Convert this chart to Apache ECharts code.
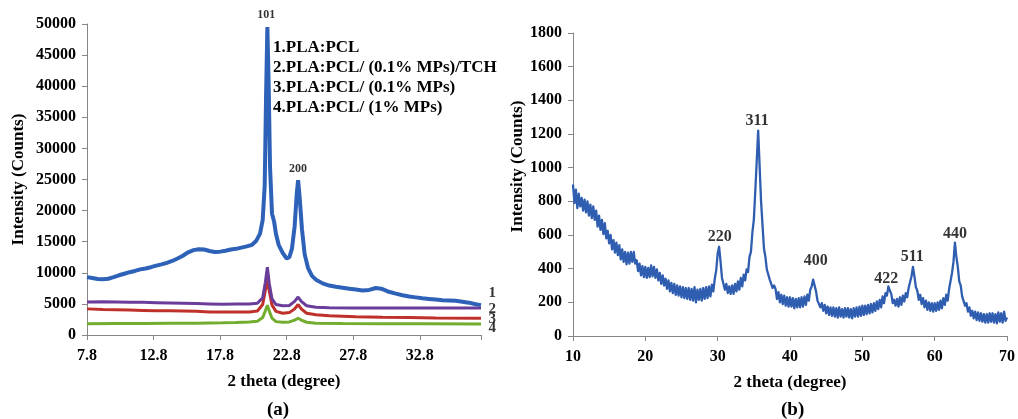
<!DOCTYPE html>
<html>
<head>
<meta charset="utf-8">
<script src="https://cdn.jsdelivr.net/npm/echarts@6/dist/echarts.min.js"></script>
<style>
  html, body { margin: 0; padding: 0; background: #fff; }
  #chart { width: 1018px; height: 419px; }
</style>
</head>
<body>
<div id="chart"></div>
<script>
// (a) PLA:PCL films, [2 theta, counts]
const curve1 = [
  [7.8, 9300], [8.2, 9150], [8.6, 9000], [9.0, 8950], [9.4, 9050], [9.8, 9300],
  [10.2, 9600], [10.6, 9850], [11.0, 10100], [11.4, 10300], [11.8, 10550], [12.2, 10700],
  [12.6, 10900], [13.0, 11150], [13.4, 11350], [13.8, 11600], [14.2, 11900], [14.6, 12300],
  [15.0, 12750], [15.4, 13300], [15.8, 13650], [16.2, 13800], [16.6, 13750], [17.0, 13500],
  [17.4, 13350], [17.8, 13400], [18.2, 13550], [18.6, 13750], [19.0, 13850], [19.4, 14050],
  [19.8, 14250], [20.2, 14500], [20.5, 15100], [20.8, 16300], [21.0, 18500], [21.15, 24000],
  [21.25, 38000], [21.35, 49500], [21.45, 40000], [21.55, 27000], [21.7, 19500], [21.85, 18300],
  [22.0, 16200], [22.2, 14500], [22.5, 13200], [22.8, 12300], [23.0, 12500], [23.2, 13900],
  [23.4, 17500], [23.55, 22500], [23.66, 24900], [23.78, 22000], [23.95, 17000], [24.15, 13000],
  [24.4, 10800], [24.7, 9500], [25.0, 8900], [25.5, 8300], [26.0, 7950], [26.5, 7750],
  [27.0, 7600], [27.5, 7450], [28.0, 7300], [28.5, 7150], [29.0, 7250], [29.5, 7550],
  [29.9, 7450], [30.4, 7000], [31.0, 6650], [31.5, 6400], [32.0, 6200], [32.5, 6050],
  [33.0, 5900], [33.5, 5800], [34.0, 5700], [34.5, 5600], [35.0, 5550], [35.5, 5500],
  [36.0, 5350], [36.5, 5200], [37.0, 4950], [37.4, 4800]
];
const curve2 = [
  [7.8, 5300], [9, 5350], [10, 5300], [11, 5250], [12, 5250], [13, 5200], [14, 5150],
  [15, 5100], [16, 5050], [17, 5000], [18, 4950], [19, 5000], [20, 5000], [20.6, 5100],
  [21.0, 6000], [21.2, 8500], [21.35, 10900], [21.5, 8200], [21.7, 5800], [22.0, 4900],
  [22.5, 4700], [23.0, 4750], [23.4, 5400], [23.66, 6100], [23.9, 5400], [24.3, 4700],
  [25, 4450], [26, 4400], [28, 4350], [30, 4350], [32, 4350], [34, 4350], [37.4, 4350]
];
const curve3 = [
  [7.8, 4200], [9, 4100], [10, 4050], [11, 4000], [12, 3950], [13, 3900], [14, 3900],
  [15, 3850], [16, 3800], [17, 3700], [18, 3700], [19, 3700], [20, 3700], [20.6, 3850],
  [21.0, 4900], [21.2, 7200], [21.35, 9000], [21.5, 7000], [21.7, 4800], [22.0, 3800],
  [22.5, 3500], [23.0, 3600], [23.4, 4200], [23.66, 4900], [23.9, 4200], [24.3, 3500],
  [25, 3250], [26, 3100], [28, 2950], [30, 2850], [32, 2800], [34, 2750], [37.4, 2700]
];
const curve4 = [
  [7.8, 1800], [10, 1850], [12, 1850], [14, 1900], [16, 1900], [18, 1950], [19, 2000],
  [20, 2100], [20.6, 2200], [21.0, 2800], [21.2, 3900], [21.35, 4800], [21.5, 3800],
  [21.7, 2700], [22.0, 2150], [22.5, 2050], [23.0, 2100], [23.4, 2400], [23.66, 2700],
  [23.9, 2400], [24.3, 2050], [25, 1900], [27, 1850], [30, 1800], [33, 1800], [37.4, 1750]
];
const seriesNamesA = [
  '1.PLA:PCL',
  '2.PLA:PCL/ (0.1% MPs)/TCH',
  '3.PLA:PCL/ (0.1% MPs)',
  '4.PLA:PCL/ (1% MPs)'
];
const peakLabelsA = [['101', 21.26, 51400], ['200', 23.66, 26700]];
const curveTagsA = [['1', 38.25, 6750], ['2', 38.25, 4180], ['3', 38.25, 2570], ['4', 38.25, 1125]];

// (b) MPs pattern, one reading every 0.2 degree from 10 to 70
const stepB = 0.2;
const countsB = [
  900, 790, 870, 760, 845, 770, 820, 745, 810, 735,
  800, 715, 780, 700, 770, 690, 745, 650, 715, 630,
  690, 605, 670, 580, 625, 550, 600, 515, 570, 495,
  555, 480, 540, 455, 515, 440, 500, 425, 495, 430,
  500, 440, 500, 430, 450, 385, 430, 360, 415, 350,
  410, 345, 405, 350, 420, 355, 410, 345, 395, 330,
  375, 310, 360, 300, 340, 280, 330, 265, 315, 255,
  310, 245, 300, 240, 295, 230, 290, 225, 285, 220,
  285, 215, 280, 210, 290, 200, 275, 215, 280, 210,
  285, 220, 290, 225, 295, 235, 305, 265, 340, 390,
  490, 530, 440, 345, 335, 275, 310, 255, 295, 250,
  300, 250, 310, 265, 325, 275, 345, 295, 365, 330,
  395, 380, 470, 500, 615, 690, 860, 1040, 1220, 1010,
  800, 660, 520, 470, 395, 400, 335, 340, 285, 300,
  280, 220, 260, 200, 245, 190, 240, 180, 230, 175,
  230, 175, 225, 165, 220, 170, 225, 170, 230, 175,
  235, 185, 245, 210, 275, 295, 335, 300, 265, 210,
  215, 170, 195, 150, 185, 135, 175, 125, 170, 120,
  170, 115, 165, 110, 170, 115, 160, 110, 165, 115,
  165, 110, 160, 105, 165, 115, 170, 115, 175, 120,
  180, 125, 180, 130, 185, 135, 190, 140, 195, 150,
  205, 160, 215, 170, 235, 195, 255, 240, 295, 270,
  250, 195, 215, 180, 220, 175, 230, 185, 240, 205,
  255, 230, 285, 280, 355, 410, 355, 290, 270, 215,
  245, 190, 225, 170, 210, 155, 200, 150, 195, 145,
  195, 150, 200, 155, 210, 165, 225, 185, 245, 210,
  280, 290, 375, 440, 555, 470, 410, 325, 300, 235,
  235, 180, 195, 145, 170, 120, 150, 105, 145, 95,
  140, 90, 135, 85, 130, 80, 130, 80, 135, 85,
  135, 80, 130, 75, 140, 85, 135, 80, 145, 90,
  110
];
const peakLabelsB = [
  ['220', 30.3, 588], ['311', 35.45, 1277], ['400', 43.56, 445],
  ['422', 53.3, 339], ['511', 56.9, 469], ['440', 62.8, 606]
];

const FONT = 'Liberation Serif';
const AXIS_GREY = '#868686';
const colorsA = ['#2e62b8', '#6a3d9a', '#c0302a', '#72ad2f'];

const chart = echarts.init(document.getElementById('chart'));

// shared look of all four axes
function valueAxis(extra) {
  return Object.assign({
    type: 'value',
    splitLine: { show: false },
    axisLine: { show: true, lineStyle: { color: AXIS_GREY, width: 1 } },
    axisTick: { show: true, length: 5, lineStyle: { color: AXIS_GREY } },
    nameLocation: 'middle',
    nameTextStyle: { color: '#000', fontFamily: FONT, fontWeight: 'bold', fontSize: 17 }
  }, extra);
}

function tickLabels(margin, formatter) {
  return {
    color: '#000', fontFamily: FONT, fontWeight: 'bold', fontSize: 16, margin: margin,
    formatter: formatter || ((v) => String(v))
  };
}

function tagSeries(items, gridIdx, fontSize) {
  return {
    type: 'scatter',
    xAxisIndex: gridIdx,
    yAxisIndex: gridIdx,
    symbolSize: 0,
    silent: true,
    clip: false,
    label: {
      show: true,
      position: 'inside',
      formatter: (p) => p.name,
      color: '#000',
      fontFamily: FONT,
      fontWeight: 'bold',
      fontSize: fontSize
    },
    data: items.map((t) => ({ name: t[0], value: [t[1], t[2]] }))
  };
}

const dataB = countsB.map((v, i) => [10 + i * stepB, v]);

const option = {
  animation: false,
  backgroundColor: '#fff',
  title: [
    { text: '(a)', left: 262, top: 396, textStyle: { fontFamily: FONT, fontWeight: 'bold', fontSize: 19, color: '#000' } },
    { text: '(b)', left: 776, top: 396, textStyle: { fontFamily: FONT, fontWeight: 'bold', fontSize: 19, color: '#000' } }
  ],
  legend: {
    data: seriesNamesA,
    orient: 'vertical',
    left: 263,
    top: 34,
    icon: 'none',
    itemWidth: 0,
    itemHeight: 17,
    itemGap: 3,
    selectedMode: false,
    textStyle: { color: '#000', fontFamily: FONT, fontWeight: 'bold', fontSize: 17 }
  },
  grid: [
    { left: 87, top: 24, width: 394, height: 311 },
    { left: 573, top: 33, width: 436, height: 303 }
  ],
  xAxis: [
    valueAxis({
      gridIndex: 0, min: 7.8, max: 37.4, interval: 5,
      name: '2 theta (degree)', nameGap: 38,
      axisLabel: tickLabels(13, (v) => (v > 35 ? '' : v.toFixed(1)))
    }),
    valueAxis({
      gridIndex: 1, min: 10, max: 70, interval: 10,
      name: '2 theta (degree)', nameGap: 38,
      axisLabel: tickLabels(13)
    })
  ],
  yAxis: [
    valueAxis({
      gridIndex: 0, min: 0, max: 50000, interval: 5000,
      name: 'Intensity (Counts)', nameGap: 60,
      axisLabel: tickLabels(11)
    }),
    valueAxis({
      gridIndex: 1, min: 0, max: 1800, interval: 200,
      name: 'Intensity (Counts)', nameGap: 47,
      nameTextStyle: { color: '#000', fontFamily: FONT, fontWeight: 'bold', fontSize: 17, padding: [0, 0, 0, 36] },
      axisLabel: tickLabels(11)
    })
  ],
  series: [
    { name: seriesNamesA[3], type: 'line', xAxisIndex: 0, yAxisIndex: 0, data: curve4, showSymbol: false, lineStyle: { color: colorsA[3], width: 3 }, itemStyle: { color: colorsA[3] } },
    { name: seriesNamesA[2], type: 'line', xAxisIndex: 0, yAxisIndex: 0, data: curve3, showSymbol: false, lineStyle: { color: colorsA[2], width: 3 }, itemStyle: { color: colorsA[2] } },
    { name: seriesNamesA[1], type: 'line', xAxisIndex: 0, yAxisIndex: 0, data: curve2, showSymbol: false, lineStyle: { color: colorsA[1], width: 3 }, itemStyle: { color: colorsA[1] } },
    { name: seriesNamesA[0], type: 'line', xAxisIndex: 0, yAxisIndex: 0, data: curve1, showSymbol: false, lineStyle: { color: colorsA[0], width: 4 }, itemStyle: { color: colorsA[0] } },
    tagSeries(peakLabelsA, 0, 12),
    tagSeries(curveTagsA, 0, 15),
    { name: 'MPs', type: 'line', xAxisIndex: 1, yAxisIndex: 1, data: dataB, showSymbol: false, lineStyle: { color: '#2f5db0', width: 2.3, join: 'round' } },
    tagSeries(peakLabelsB, 1, 16)
  ]
};

chart.setOption(option);
</script>
</body>
</html>
